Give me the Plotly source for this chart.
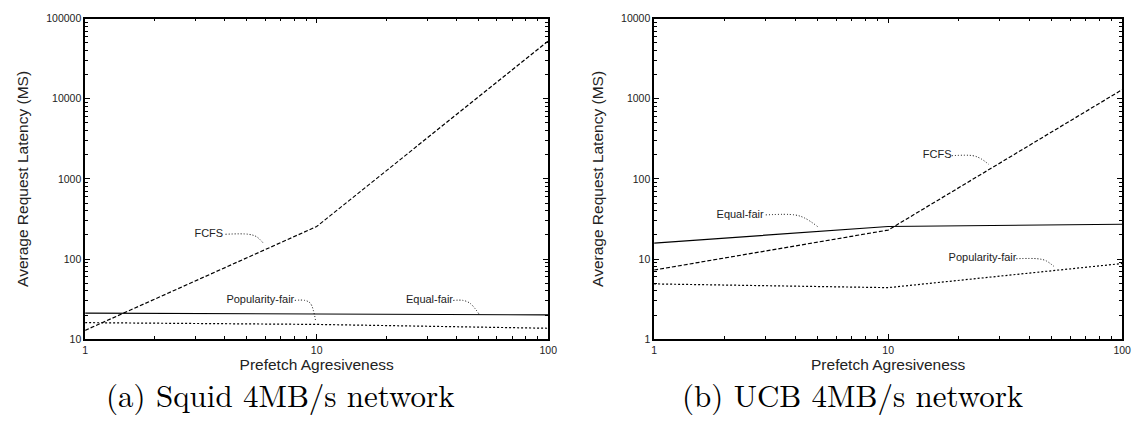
import plotly.graph_objects as go

# ---------------- data ----------------
x_vals = [1, 10, 100]

squid_fcfs = [12.9, 255, 52500]
squid_equal = [21.2, 20.7, 20.1]
squid_pop = [16.1, 15.3, 13.7]

ucb_fcfs = [7.3, 23, 1300]
ucb_equal = [15.8, 25.5, 27.2]
ucb_pop = [4.9, 4.4, 8.8]

left_yticks = [10, 100, 1000, 10000, 100000]
right_yticks = [1, 10, 100, 1000, 10000]
xticks = [1, 10, 100]

captions = ["(a) Squid 4MB/s network", "(b) UCB 4MB/s network"]
x_title = "Prefetch Agresiveness"
y_title = "Average Request Latency (MS)"

# label annotations: (text, text x, text y, leader xs, leader ys)
left_labels = [
    ("FCFS", 3.42, 204, [4.04, 5.07, 5.5, 5.88], [204, 204, 190, 158]),
    ("Popularity-fair", 5.71, 30.5, [8.05, 8.89, 9.4, 9.9], [30.5, 30.5, 28, 16.8]),
    ("Equal-fair", 30.7, 30.5, [38.9, 42.9, 46, 50.2], [30.5, 30.5, 28, 20.7]),
]
right_labels = [
    ("Equal-fair", 2.33, 35.6, [3.0, 3.98, 4.4, 4.99], [35.6, 35.6, 32.5, 25.5]),
    ("FCFS", 16.2, 195, [18.7, 23, 24.8, 26.9], [195, 195, 180, 152]),
    ("Popularity-fair", 25.3, 10.1, [35.3, 43.3, 47, 51.1], [10.1, 10.1, 9.6, 8.1]),
]

W, H = 1148, 421
fig = go.Figure()

x_domains = [[83 / W, 551 / W], [658 / W, 1131 / W]]
y_domain = [(H - 343) / H, (H - 13) / H]

line_w = 1.2
series = [
    (squid_fcfs, squid_equal, squid_pop, "x", "y", left_labels),
    (ucb_fcfs, ucb_equal, ucb_pop, "x2", "y2", right_labels),
]
for fcfs, equal, pop, xa, ya, labels in series:
    fig.add_trace(go.Scatter(x=x_vals, y=fcfs, mode="lines", xaxis=xa, yaxis=ya,
                             line=dict(color="black", width=line_w, dash="4px,2px"),
                             hoverinfo="skip", showlegend=False))
    fig.add_trace(go.Scatter(x=x_vals, y=equal, mode="lines", xaxis=xa, yaxis=ya,
                             line=dict(color="black", width=line_w),
                             hoverinfo="skip", showlegend=False))
    fig.add_trace(go.Scatter(x=x_vals, y=pop, mode="lines", xaxis=xa, yaxis=ya,
                             line=dict(color="black", width=line_w, dash="2px,2px"),
                             hoverinfo="skip", showlegend=False))
    for text, tx, ty, lx, ly in labels:
        fig.add_trace(go.Scatter(x=lx, y=ly, mode="lines", xaxis=xa, yaxis=ya,
                                 line=dict(color="black", width=1, dash="1px,2px", shape="spline"),
                                 hoverinfo="skip", showlegend=False))
        fig.add_trace(go.Scatter(x=[tx], y=[ty], mode="text", text=[text], xaxis=xa, yaxis=ya,
                                 textposition="middle center",
                                 textfont=dict(family="Liberation Sans, Arial", size=11, color="#222"),
                                 hoverinfo="skip", showlegend=False))

axis_common = dict(
    type="log", showline=True, linecolor="black", linewidth=1.5, mirror="allticks",
    ticks="inside", ticklen=5, tickcolor="black", tickwidth=1, showgrid=False, zeroline=False,
    tickfont=dict(family="Liberation Sans, Arial", size=10.5, color="#222"),
    minor=dict(ticks="inside", ticklen=3, tickcolor="black", dtick="D1", showgrid=False),
    tickmode="array",
)
title_font = dict(family="Liberation Sans, Arial", size=15.5, color="#222")

fig.update_layout(
    width=W, height=H, margin=dict(l=0, r=0, t=0, b=0),
    paper_bgcolor="white", plot_bgcolor="white",
    xaxis=dict(axis_common, domain=x_domains[0], anchor="y", range=[0, 2],
               tickvals=xticks, ticktext=[str(v) for v in xticks],
               title=dict(text=x_title, font=title_font, standoff=1)),
    yaxis=dict(axis_common, domain=y_domain, anchor="x", range=[1, 5],
               tickvals=left_yticks, ticktext=[str(v) for v in left_yticks],
               title=dict(text=y_title, font=title_font, standoff=14)),
    xaxis2=dict(axis_common, domain=x_domains[1], anchor="y2", range=[0, 2],
                tickvals=xticks, ticktext=[str(v) for v in xticks],
                title=dict(text=x_title, font=title_font, standoff=1)),
    yaxis2=dict(axis_common, domain=y_domain, anchor="x2", range=[0, 4],
                tickvals=right_yticks, ticktext=[str(v) for v in right_yticks],
                title=dict(text=y_title, font=title_font, standoff=14)),
)

cap_font = dict(family="Latin Modern Roman, CMU Serif, Liberation Serif, serif", size=31, color="black")
for cap, cx in zip(captions, [280 / W, 858 / W]):
    fig.add_annotation(text=cap, x=cx, y=(H - 399) / H, xref="paper", yref="paper",
                       showarrow=False, xanchor="center", yanchor="middle", font=cap_font)

fig.write_html("out.html")
